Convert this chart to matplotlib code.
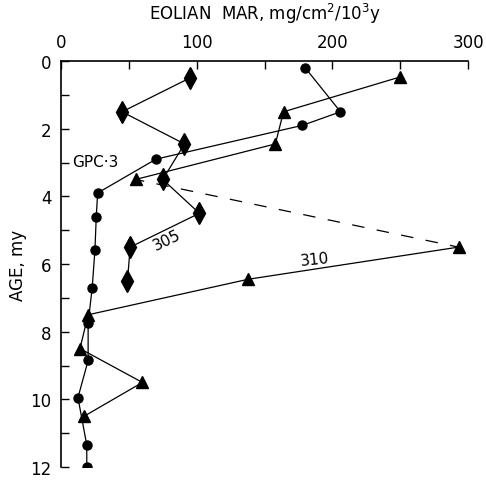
import matplotlib
matplotlib.use("Agg")
from matplotlib import pyplot as plt
from matplotlib.ticker import MultipleLocator

# GPC-3 (circles)
gpc_mar = [180, 206, 178, 70, 27, 26, 25, 23, 20, 20, 12.5, 19, 19]
gpc_age = [0.2, 1.5, 1.9, 2.9, 3.9, 4.6, 5.6, 6.7, 7.75, 8.85, 9.95, 11.35, 12.0]

# 310 (triangles), gap between 3.5 and 5.5 drawn dashed
s310_mar = [250, 164, 158, 55, 293, 138, 20, 14, 60, 17]
s310_age = [0.47, 1.5, 2.45, 3.5, 5.5, 6.45, 7.5, 8.5, 9.5, 10.5]

# 305 (diamonds)
s305_mar = [95, 45, 91, 75, 102, 51, 49]
s305_age = [0.5, 1.5, 2.45, 3.5, 4.5, 5.5, 6.5]

xticks = [0, 100, 200, 300]
yticks = [0, 2, 4, 6, 8, 10, 12]

plt.rcParams['font.family'] = ['DejaVu Sans']
fig = plt.figure(figsize=(4.86, 4.81), dpi=100)
ax = fig.add_axes([0.1255, 0.027, 0.8375, 0.844])

lw = 0.9
ax.plot(gpc_mar, gpc_age, color='k', lw=lw, marker='o', ms=6.5, zorder=3)
ax.plot(s310_mar[:4], s310_age[:4], color='k', lw=lw, marker='^', ms=8, zorder=3)
ax.plot(s310_mar[3:5], s310_age[3:5], color='k', lw=lw, ls=(3, (10, 10)), zorder=2)
ax.plot(s310_mar[4:], s310_age[4:], color='k', lw=lw, marker='^', ms=8, zorder=3)
ax.plot(s305_mar, s305_age, color='k', lw=lw, marker='d', ms=11, zorder=3)

ax.text(8, 2.96, 'GPC·3', fontsize=11, va='center', ha='left')
ax.text(78, 5.27, '305', fontsize=11, va='center', ha='center', rotation=26)
ax.text(187, 5.86, '310', fontsize=11, va='center', ha='center', rotation=6)

ax.set_xlim(0, 300)
ax.set_ylim(12, 0)
ax.xaxis.tick_top()
ax.xaxis.set_label_position('top')
ax.set_xticks(xticks)
ax.xaxis.set_minor_locator(MultipleLocator(50))
ax.set_yticks(yticks)
ax.yaxis.set_minor_locator(MultipleLocator(1))
ax.tick_params(which='both', direction='in', length=6, width=1,
               labelsize=12, pad=7, top=True, bottom=False,
               left=True, right=False)
for s in ['right', 'bottom']:
    ax.spines[s].set_visible(False)
for s in ['top', 'left']:
    ax.spines[s].set_linewidth(1.2)

ax.set_xlabel('EOLIAN  MAR, mg/cm$^2$/10$^3$y', fontsize=12, labelpad=10)
ax.set_ylabel('AGE, my', fontsize=12, labelpad=2)

fig.savefig('out.png', dpi=100)
